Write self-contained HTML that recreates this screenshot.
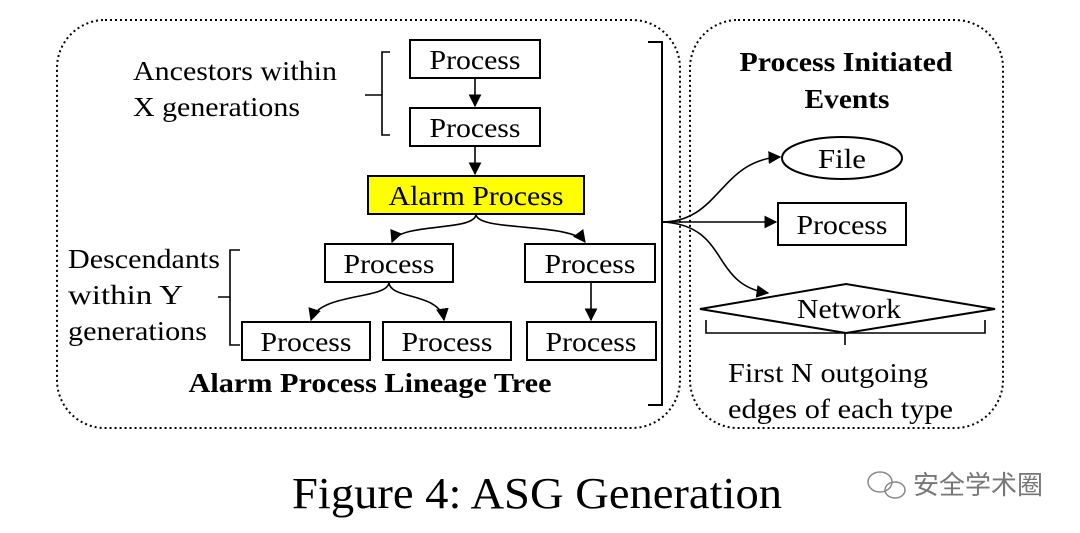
<!DOCTYPE html>
<html><head><meta charset="utf-8"><style>
html,body{margin:0;padding:0;background:#fff;}
svg{display:block;}
text{font-family:"Liberation Serif",serif;fill:#000;}
</style></head><body>
<svg width="1080" height="533" viewBox="0 0 1080 533" xmlns="http://www.w3.org/2000/svg">
<defs>
<marker id="a" viewBox="0 0 10 10" refX="9" refY="5" markerWidth="8" markerHeight="8" orient="auto"><path d="M0,0 L10,5 L0,10z" fill="#000"/></marker>
</defs>
<rect x="57" y="20" width="623" height="408" rx="48" fill="none" stroke="#000" stroke-width="2" stroke-dasharray="2,3"/>
<rect x="690" y="20" width="313" height="408" rx="48" fill="none" stroke="#000" stroke-width="2" stroke-dasharray="2,3"/>
<g fill="#fff" stroke="#000" stroke-width="2">
<rect x="410" y="40" width="130" height="38"/>
<rect x="410" y="108" width="130" height="38"/>
<rect x="368" y="176" width="216" height="38" fill="#ffff00"/>
<rect x="325" y="244" width="128" height="38"/>
<rect x="525" y="244" width="130" height="38"/>
<rect x="242" y="322" width="128" height="38"/>
<rect x="383" y="322" width="128" height="38"/>
<rect x="527" y="322" width="129" height="38"/>
<ellipse cx="842" cy="158" rx="60" ry="21"/>
<rect x="778" y="203" width="128" height="42"/>
<path d="M700,309 L846,284 L995,309 L846,333z"/>
</g>
<g font-size="27" text-anchor="middle" lengthAdjust="spacingAndGlyphs">
<text x="475" y="69" textLength="91" lengthAdjust="spacingAndGlyphs">Process</text>
<text x="475" y="137" textLength="91" lengthAdjust="spacingAndGlyphs">Process</text>
<text x="476" y="205" textLength="175" lengthAdjust="spacingAndGlyphs">Alarm Process</text>
<text x="389" y="273" textLength="91" lengthAdjust="spacingAndGlyphs">Process</text>
<text x="590" y="273" textLength="91" lengthAdjust="spacingAndGlyphs">Process</text>
<text x="306" y="351" textLength="91" lengthAdjust="spacingAndGlyphs">Process</text>
<text x="447" y="351" textLength="91" lengthAdjust="spacingAndGlyphs">Process</text>
<text x="591" y="351" textLength="91" lengthAdjust="spacingAndGlyphs">Process</text>
<text x="842" y="168" textLength="48" lengthAdjust="spacingAndGlyphs">File</text>
<text x="842" y="234" textLength="91" lengthAdjust="spacingAndGlyphs">Process</text>
<text x="849" y="318" textLength="104" lengthAdjust="spacingAndGlyphs">Network</text>
</g>
<g fill="none" stroke="#000" stroke-width="1.6">
<path d="M475,78 V106" marker-end="url(#a)"/>
<path d="M475,146 V174" marker-end="url(#a)"/>
<path d="M476,214 C476,232 400,222 392,242" marker-end="url(#a)"/>
<path d="M476,214 C476,232 570,222 585,242" marker-end="url(#a)"/>
<path d="M389,282 C389,300 320,292 311,320" marker-end="url(#a)"/>
<path d="M389,282 C389,300 440,292 444,320" marker-end="url(#a)"/>
<path d="M591,282 V320" marker-end="url(#a)"/>
<path d="M662,222 C720,222 720,160 780,157" marker-end="url(#a)"/>
<path d="M662,222 H776" marker-end="url(#a)"/>
<path d="M662,222 C730,225 710,285 768,293" marker-end="url(#a)"/>
<path d="M390,52 H382 V95 H365 M382,95 V135 H390"/>
<path d="M240,250 H230 V297 H218 M230,297 V345 H240"/>
<path d="M648,42 H662 V222 H665 M662,222 V405 H648" stroke-width="2"/>
<path d="M706,320 V333 H845 V345 M845,333 H985 V320"/>
</g>
<g font-size="27">
<text x="133" y="80" textLength="204" lengthAdjust="spacingAndGlyphs">Ancestors within</text>
<text x="133" y="116" textLength="167" lengthAdjust="spacingAndGlyphs">X generations</text>
<text x="68" y="268" textLength="152" lengthAdjust="spacingAndGlyphs">Descendants</text>
<text x="68" y="304" textLength="115" lengthAdjust="spacingAndGlyphs">within Y</text>
<text x="68" y="340" textLength="139" lengthAdjust="spacingAndGlyphs">generations</text>
<text x="728" y="382" textLength="200" lengthAdjust="spacingAndGlyphs">First N outgoing</text>
<text x="728" y="418" textLength="225" lengthAdjust="spacingAndGlyphs">edges of each type</text>
</g>
<g font-size="27" font-weight="bold" text-anchor="middle">
<text x="370" y="392" textLength="363" lengthAdjust="spacingAndGlyphs">Alarm Process Lineage Tree</text>
<text x="846" y="71" textLength="213" lengthAdjust="spacingAndGlyphs">Process Initiated</text>
<text x="847" y="108" textLength="85" lengthAdjust="spacingAndGlyphs">Events</text>
</g>
<text x="537" y="508" font-size="44" text-anchor="middle" textLength="490" lengthAdjust="spacingAndGlyphs">Figure 4: ASG Generation</text>
<g fill="none" stroke="#888" stroke-width="1.5">
<ellipse cx="880" cy="482" rx="12" ry="10"/>
<ellipse cx="895" cy="490" rx="10" ry="8"/>
</g>
<text x="913" y="494" font-size="26" textLength="130" lengthAdjust="spacingAndGlyphs" style="font-family:'Liberation Sans','Noto Sans CJK SC',sans-serif;fill:#777">安全学术圈</text>
</svg>
</body></html>
